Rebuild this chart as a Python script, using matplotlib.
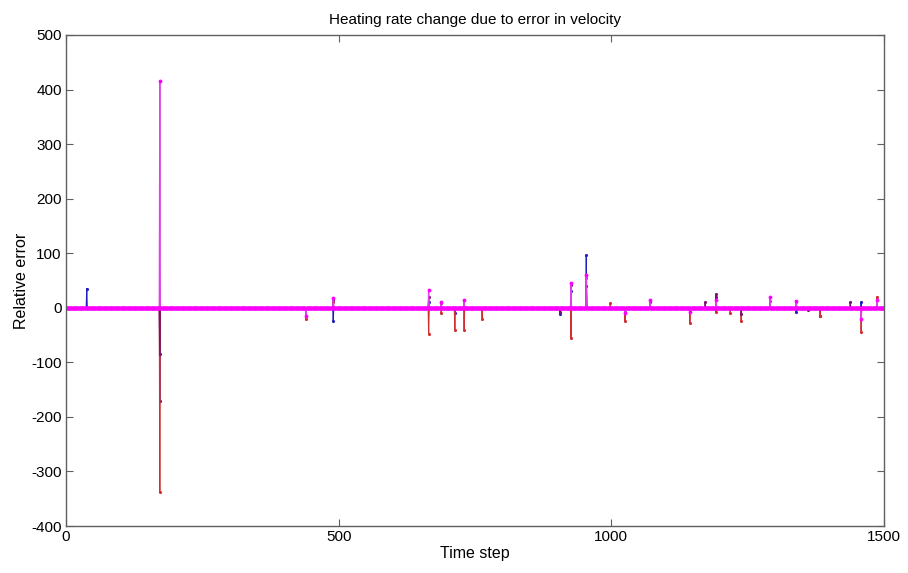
import numpy as np
import matplotlib
matplotlib.use("Agg")
import matplotlib.pyplot as plt

plt.rcParams['font.family'] = ['Liberation Sans', 'DejaVu Sans']
plt.rcParams['axes.unicode_minus'] = False

n_steps = 1500

# spike positions (time step) and relative error per series; all other steps are ~0
blue_steps = [38, 172, 490, 665, 713, 906, 926, 954, 1025, 1071, 1192, 1339, 1383, 1458]
blue_vals = [35, -170, -25, 10, -10, -12, 30, 97, -8, 10, 20, -8, -15, 10]

red_steps = [172, 440, 490, 665, 688, 713, 730, 763, 926, 954, 998, 1025, 1144, 1192, 1218, 1238, 1291, 1339, 1383, 1458, 1487]
red_vals = [-338, -20, 10, -48, -10, -40, -40, -20, -55, 55, 8, -25, -28, -8, -10, -25, 12, 10, -15, -45, 20]

purple_steps = [172, 490, 665, 688, 730, 906, 926, 954, 1071, 1172, 1192, 1238, 1361, 1438]
purple_vals = [-85, 15, 20, 8, 15, -8, 42, 40, 12, 10, 25, -12, -5, 10]

magenta_steps = [172, 440, 490, 665, 688, 730, 926, 954, 1025, 1071, 1144, 1192, 1291, 1339, 1458, 1487]
magenta_vals = [415, -15, 17, 32, 10, 15, 45, 60, -10, 15, -8, 15, 20, 12, -20, 15]


def build_series(steps, vals):
    y = np.zeros(n_steps)
    for s, v in zip(steps, vals):
        y[s - 1] = v
    return y


t = np.arange(1, n_steps + 1)

fig = plt.figure(figsize=(9.08, 5.73), dpi=100)
ax = fig.add_axes([0.0727, 0.082, 0.9009, 0.857])

ax.plot(t, build_series(blue_steps, blue_vals), color='#2020c0', lw=0.8,
        marker='.', ms=2.5)
ax.plot(t, build_series(red_steps, red_vals), color='#d03030', lw=0.8,
        marker='.', ms=2.5)
ax.plot(t, build_series(purple_steps, purple_vals), color='#7a1070', lw=0.8,
        marker='.', ms=2.5)
ax.plot(t, build_series(magenta_steps, magenta_vals), color='#e040e8', lw=0.9,
        marker='.', ms=3.5, mfc='#ff00ff', mec='#ff00ff')
# zero baseline drawn by the overlapping markers of all steps
ax.axhline(0, color='#ff00ff', lw=2.0, zorder=1.5)

ax.set_xlim(0, 1500)
ax.set_ylim(-400, 500)
ax.set_xticks([0, 500, 1000, 1500])
ax.set_yticks(np.arange(-400, 501, 100))

for sp in ax.spines.values():
    sp.set_color('#606060')
    sp.set_linewidth(1.0)
ax.tick_params(direction='in', top=True, right=True, length=5,
               color='#606060', labelsize=11, pad=3)

ax.set_title('Heating rate change due to error in velocity', fontsize=11, pad=8)
ax.set_xlabel('Time step', fontsize=11.5, labelpad=1)
ax.set_ylabel('Relative error', fontsize=11.5, labelpad=2)

fig.savefig('out.png', dpi=100)
